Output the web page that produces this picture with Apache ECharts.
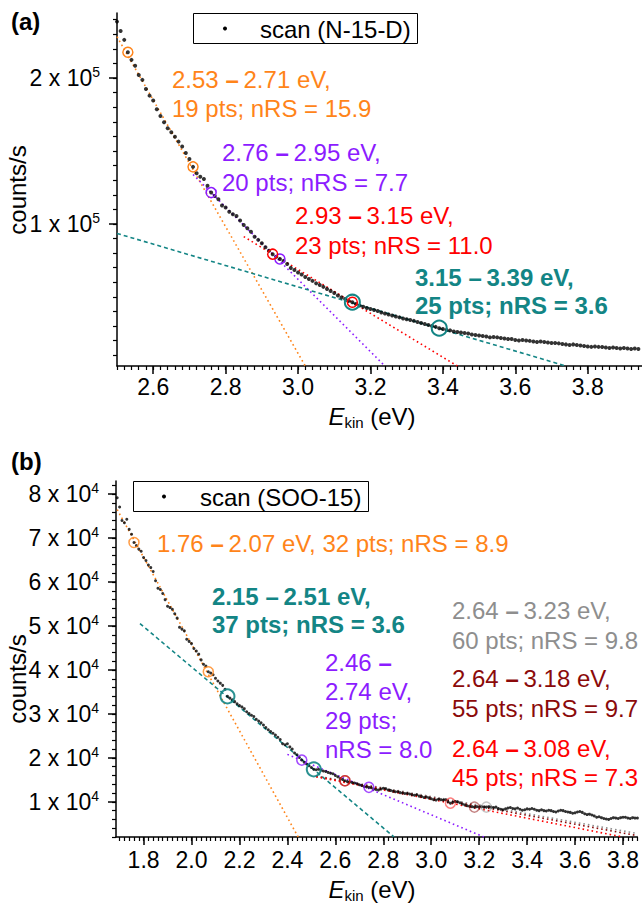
<!DOCTYPE html>
<html><head><meta charset="utf-8">
<script src="https://cdn.jsdelivr.net/npm/echarts@6/dist/echarts.min.js"></script>
<style>html,body{margin:0;padding:0;background:#fff}#c{width:642px;height:907px}</style>
</head><body><div id="c"></div>
<script>
// ---------- DATA : panel (a) scan (N-15-D) ----------
const energyA = [
2.50,2.51,2.52,2.53,2.54,2.55,2.56,2.57,2.58,2.59,
2.60,2.61,2.62,2.63,2.64,2.65,2.66,2.67,2.68,2.69,
2.70,2.71,2.72,2.73,2.74,2.75,2.76,2.77,2.78,2.79,
2.80,2.81,2.82,2.83,2.84,2.85,2.86,2.87,2.88,2.89,
2.90,2.91,2.92,2.93,2.94,2.95,2.96,2.97,2.98,2.99,
3.00,3.01,3.02,3.03,3.04,3.05,3.06,3.07,3.08,3.09,
3.10,3.11,3.12,3.13,3.14,3.15,3.16,3.17,3.18,3.19,
3.20,3.21,3.22,3.23,3.24,3.25,3.26,3.27,3.28,3.29,
3.30,3.31,3.32,3.33,3.34,3.35,3.36,3.37,3.38,3.39,
3.40,3.41,3.42,3.43,3.44,3.45,3.46,3.47,3.48,3.49,
3.50,3.51,3.52,3.53,3.54,3.55,3.56,3.57,3.58,3.59,
3.60,3.61,3.62,3.63,3.64,3.65,3.66,3.67,3.68,3.69,
3.70,3.71,3.72,3.73,3.74,3.75,3.76,3.77,3.78,3.79,
3.80,3.81,3.82,3.83,3.84,3.85,3.86,3.87,3.88,3.89,
3.90,3.91,3.92,3.93,3.94];
const countsA = [
238600,232200,226100,217600,212400,208400,202100,198700,192500,187900,
184500,178600,174000,169700,165600,162800,159800,156400,153000,148600,
144500,139100,134700,132400,130800,126200,121500,119200,116900,112700,
111300,108400,106700,105500,102300,99300,97100,94700,91300,89100,
86800,84000,81700,79300,77600,76000,74700,72600,69900,68500,
66800,65400,63700,62300,61000,59300,58200,56900,55500,54100,
52700,51000,49700,48600,47300,46400,45200,44200,43300,42500,
41800,41100,40400,39400,38700,38000,37300,36600,36000,35300,
34700,34200,33600,32900,32200,31500,30800,30100,29500,28600,
28100,27400,27100,26400,26000,25700,25300,25000,24300,24000,
23600,23300,22900,22300,22600,22300,21900,21600,21200,21200,
20500,20200,20500,20200,19900,19500,19200,19500,19200,18800,
18500,18500,18200,17800,17500,17100,17500,17100,16800,16400,
16100,15800,16100,15800,15700,15400,15100,15400,15100,14700,
15100,14700,14400,14700,14400];

// fit lines (a): endpoints [eV, counts/s]
const fitA_orange = [[2.50, 228300], [3.02, 2700]];
const fitA_purple = [[2.71, 133900], [3.24, 2700]];
const fitA_red    = [[2.85, 91350], [3.44, 2700]];
const fitA_teal   = [[2.50, 93500], [3.74, 2700]];
// fit range end points (a)
const rangeA_orange = [2.53, 2.71];
const rangeA_purple = [2.76, 2.95];
const rangeA_red    = [2.93, 3.15];
const rangeA_teal   = [3.15, 3.39];

// ---------- DATA : panel (b) scan (SOO-15) ----------
const energyB = [
1.69,
1.70,1.71,1.72,1.73,1.74,1.75,1.76,1.77,1.78,1.79,
1.80,1.81,1.82,1.83,1.84,1.85,1.86,1.87,1.88,1.89,
1.90,1.91,1.92,1.93,1.94,1.95,1.96,1.97,1.98,1.99,
2.00,2.01,2.02,2.03,2.04,2.05,2.06,2.07,2.08,2.09,
2.10,2.11,2.12,2.13,2.14,2.15,2.16,2.17,2.18,2.19,
2.20,2.21,2.22,2.23,2.24,2.25,2.26,2.27,2.28,2.29,
2.30,2.31,2.32,2.33,2.34,2.35,2.36,2.37,2.38,2.39,
2.40,2.41,2.42,2.43,2.44,2.45,2.46,2.47,2.48,2.49,
2.50,2.51,2.52,2.53,2.54,2.55,2.56,2.57,2.58,2.59,
2.60,2.61,2.62,2.63,2.64,2.65,2.66,2.67,2.68,2.69,
2.70,2.71,2.72,2.73,2.74,2.75,2.76,2.77,2.78,2.79,
2.80,2.81,2.82,2.83,2.84,2.85,2.86,2.87,2.88,2.89,
2.90,2.91,2.92,2.93,2.94,2.95,2.96,2.97,2.98,2.99,
3.00,3.01,3.02,3.03,3.04,3.05,3.06,3.07,3.08,3.09,
3.10,3.11,3.12,3.13,3.14,3.15,3.16,3.17,3.18,3.19,
3.20,3.21,3.22,3.23,3.24,3.25,3.26,3.27,3.28,3.29,
3.30,3.31,3.32,3.33,3.34,3.35,3.36,3.37,3.38,3.39,
3.40,3.41,3.42,3.43,3.44,3.45,3.46,3.47,3.48,3.49,
3.50,3.51,3.52,3.53,3.54,3.55,3.56,3.57,3.58,3.59,
3.60,3.61,3.62,3.63,3.64,3.65,3.66,3.67,3.68,3.69,
3.70,3.71,3.72,3.73,3.74,3.75,3.76,3.77,3.78,3.79,
3.80,3.81,3.82,3.83,3.84,3.85,3.86];
const countsB = [
79200,
77100,74000,73500,74300,72000,70900,69000,68300,67500,67000,
65600,64900,63900,63300,62400,60300,58600,58300,57400,56000,
54500,54200,53800,52800,51800,49700,49300,48900,47000,46500,
46000,44900,44300,43600,42300,41300,40900,39600,39300,38900,
38100,37500,37000,36500,35600,34000,33600,33200,32800,32300,
31900,31600,31200,30500,30100,29700,29400,28800,28400,28000,
27500,26900,26400,26000,25600,25200,24700,24200,23200,23000,
23200,22500,22000,21100,20700,20100,19500,19000,18600,18200,
17800,17400,17300,17400,17200,17000,16900,16700,16500,16400,
16000,15700,15300,15100,14800,14600,14500,14400,14300,14100,
13900,13700,13500,13400,13300,13200,12900,12800,12700,12900,
13100,13000,12700,12600,12400,12300,12300,12100,12000,11900,
11900,11800,11600,11500,11600,11300,11200,11000,11100,10900,
10700,10500,10400,10600,10500,10400,10500,10000,9700,9900,
10100,10000,9800,9500,9300,9100,9000,8900,8800,8900,
8800,8900,8800,8800,8900,8800,8700,8800,8500,8300,
8200,8400,8600,8700,8500,8400,8600,8300,8100,8200,
8400,8300,8500,8300,8100,8000,8200,8000,7900,8100,
8000,7800,7700,7900,8100,8000,7800,7700,7600,7400,
7500,7700,7800,7600,7300,7100,7200,7000,6800,6500,
6600,6400,6200,6100,6000,6200,6400,6300,6200,6400,
6500,6500,6300,6200,6400,6300,6300];

const fitB_orange = [[1.69, 76500], [2.445, 2000]];
const fitB_teal   = [[1.785, 50540], [2.845, 2000]];
const fitB_purple = [[2.40, 20800], [3.22, 2000]];
const fitB_gray   = [[2.52, 15900], [3.86, 2800]];
const fitB_brown  = [[2.52, 15800], [3.86, 2300]];
const fitB_red    = [[2.52, 15700], [3.80, 2000]];
const rangeB_orange = [1.76, 2.07];
const rangeB_teal   = [2.15, 2.51];
const rangeB_purple = [2.46, 2.74];
const rangeB_gray   = [2.64, 3.23];
const rangeB_brown  = [2.64, 3.18];
const rangeB_red    = [2.64, 3.08];

// ---------- TICKS ----------
const xTicksA = [2.6, 2.8, 3.0, 3.2, 3.4, 3.6, 3.8];
const xTicksB = [1.8, 2.0, 2.2, 2.4, 2.6, 2.8, 3.0, 3.2, 3.4, 3.6, 3.8];
const yTicksA = [100000, 200000];
const yTicksB = [10000, 20000, 30000, 40000, 50000, 60000, 70000, 80000];
const yExpA = 5, yExpB = 4;

// ---------- STYLE ----------
const FONT = '"Liberation Sans", Arial, Helvetica, sans-serif';
const COL = {orange:'#FF8419', purple:'#8C1CFF', red:'#FF0000', teal:'#138585', gray:'#8E8E8E', brown:'#8B0A0A'};

function pairs(xs, ys) { return xs.map((x, i) => [x, ys[i]]); }
function pick(xs, ys, es) { return es.map(e => { const i = xs.findIndex(v => Math.abs(v - e) < 1e-6); return [e, ys[i]]; }); }
function steps(a, b, n, div) { const r = []; for (let k = a; k <= b; k += n) r.push(k / div); return r; }

const xMinorA = steps(125, 197, 1, 50);
const xMinorB = steps(85, 193, 1, 50);
const yMinorA = steps(1, 24, 1, 1).map(v => v * 10000);
const yMinorB = steps(1, 41, 1, 1).map(v => v * 2000);

function xAxes(gi, min, max, major, minor, margin) {
  return [
    {type:'value', gridIndex:gi, min, max, position:'bottom',
     axisLine:{show:true, onZero:false, lineStyle:{color:'#000', width:1.5}},
     axisTick:{show:true, customValues:major, length:8, lineStyle:{color:'#000', width:1.5}},
     axisLabel:{show:true, customValues:major, formatter:v => v.toFixed(1), fontSize:23, fontFamily:FONT, color:'#000', margin},
     splitLine:{show:false}},
    {type:'value', gridIndex:gi, min, max, position:'bottom',
     axisLine:{show:false, onZero:false},
     axisTick:{show:true, customValues:minor, length:4, lineStyle:{color:'#000', width:1.2}},
     axisLabel:{show:false}, splitLine:{show:false}}
  ];
}
function yAxes(gi, min, max, major, minor, exp) {
  const div = Math.pow(10, exp);
  return [
    {type:'value', gridIndex:gi, min, max, position:'left',
     axisLine:{show:true, onZero:false, lineStyle:{color:'#000', width:1.5}},
     axisTick:{show:true, customValues:major, length:8, lineStyle:{color:'#000', width:1.5}},
     axisLabel:{show:true, customValues:major, margin:17,
       formatter:v => '{m|' + Math.round(v / div) + ' x 10}{s|' + exp + '}',
       rich:{m:{fontSize:23, fontFamily:FONT, color:'#000', lineHeight:26},
             s:{fontSize:14, fontFamily:FONT, color:'#000', verticalAlign:'top', lineHeight:14}}},
     splitLine:{show:false}},
    {type:'value', gridIndex:gi, min, max, position:'left',
     axisLine:{show:false, onZero:false},
     axisTick:{show:true, customValues:minor, length:4, lineStyle:{color:'#000', width:1.2}},
     axisLabel:{show:false}, splitLine:{show:false}}
  ];
}

const series = [];
function fitLine(xi, data, color, dashed) {
  series.push({type:'line', xAxisIndex:xi, yAxisIndex:xi, data, showSymbol:false, symbol:'none', silent:true, z:2,
    lineStyle:{color, width:1.6, type: dashed ? [4, 3] : [1.6, 3]}, clip:true});
}
function scan(xi, xs, ys, size) {
  series.push({type:'scatter', xAxisIndex:xi, yAxisIndex:xi, data:pairs(xs, ys), symbolSize:size, silent:true, z:3,
    itemStyle:{color:'#000'}});
}
function rings(xi, xs, ys, es, color, size, bw, op) {
  series.push({type:'scatter', xAxisIndex:xi, yAxisIndex:xi, data:pick(xs, ys, es), symbol:'circle', symbolSize:size, silent:true, z:4,
    itemStyle:{color:'rgba(0,0,0,0)', borderColor:color, borderWidth:bw, opacity:op}});
}

// panel (a)
fitLine(0, fitA_orange, COL.orange, false);
fitLine(0, fitA_purple, COL.purple, false);
fitLine(0, fitA_red, COL.red, false);
fitLine(0, fitA_teal, COL.teal, true);
scan(0, energyA, countsA, 4);
rings(0, energyA, countsA, rangeA_orange, COL.orange, 10, 1.5, 1);
rings(0, energyA, countsA, rangeA_purple, COL.purple, 10, 1.5, 1);
rings(0, energyA, countsA, rangeA_red, COL.red, 10, 1.5, 1);
rings(0, energyA, countsA, rangeA_teal, COL.teal, 15, 2, 1);
// panel (b)
fitLine(2, fitB_orange, COL.orange, false);
fitLine(2, fitB_teal, COL.teal, true);
fitLine(2, fitB_purple, COL.purple, false);
fitLine(2, fitB_gray, COL.gray, false);
fitLine(2, fitB_brown, COL.brown, false);
fitLine(2, fitB_red, COL.red, false);
scan(2, energyB, countsB, 3);
rings(2, energyB, countsB, rangeB_orange, COL.orange, 10, 1.5, 0.8);
rings(2, energyB, countsB, rangeB_teal, COL.teal, 14, 2, 0.9);
rings(2, energyB, countsB, rangeB_purple, COL.purple, 10, 1.5, 0.8);
rings(2, energyB, countsB, rangeB_gray, COL.gray, 10, 1.5, 0.5);
rings(2, energyB, countsB, rangeB_brown, COL.brown, 10, 1.5, 0.5);
rings(2, energyB, countsB, rangeB_red, COL.red, 10, 1.5, 0.5);

// ---------- annotation text ----------
function richLine(s) { return '{n|' + s.replace('–', '}{d|–}{n|\u2009') + '}'; }
function ann(x, y, lh, lines, color, bold) {
  return {type:'text', x, y, z:10, silent:true, style:{
    text: lines.map(richLine).join('\n'), align:'left', verticalAlign:'top',
    fill:color, fontSize:24, fontFamily:FONT, fontWeight: bold ? 'bold' : 'normal', lineHeight:lh,
    rich:{n:{fill:color, fontSize:24, fontFamily:FONT, fontWeight: bold ? 'bold' : 'normal', lineHeight:lh},
          d:{fill:color, fontSize:24, fontFamily:FONT, fontWeight:'bold', lineHeight:lh}}}};
}
function legendBox(x, y, w, h, dotX, textX, label) {
  return [
    {type:'rect', shape:{x:x + 0.5, y:y + 0.5, width:w, height:h}, z:9, style:{fill:'#fff', stroke:'#000', lineWidth:1}},
    {type:'circle', shape:{cx:dotX, cy:y + h / 2 + 0.5, r:2}, z:10, style:{fill:'#000'}},
    {type:'text', x:textX, y:y + h / 2 + 1, z:10, style:{text:label, fill:'#000', fontSize:24, fontFamily:FONT, verticalAlign:'middle', align:'left'}}
  ];
}
function xTitle(cx, cy) {
  return {type:'text', x:cx, y:cy, z:10, style:{text:'{e|E}{k|kin}{n| (eV)}', align:'center', verticalAlign:'middle',
    fontSize:24, fontFamily:FONT, fill:'#000',
    rich:{e:{fontSize:24, fontFamily:FONT, fontStyle:'italic', fill:'#000', lineHeight:28},
          k:{fontSize:15, fontFamily:FONT, fill:'#000', verticalAlign:'bottom', lineHeight:15},
          n:{fontSize:24, fontFamily:FONT, fill:'#000', lineHeight:28}}}};
}
function yTitle(cx, cy) {
  return {type:'text', x:cx, y:cy, rotation:Math.PI / 2, z:10, style:{text:'counts/s', align:'center', verticalAlign:'middle',
    fontSize:24, fontFamily:FONT, fill:'#000'}};
}

const graphic = [
  {type:'text', x:11, y:21, z:10, style:{text:'(a)', fontSize:24, fontWeight:'bold', fontFamily:FONT, fill:'#000', verticalAlign:'middle'}},
  {type:'text', x:11, y:461, z:10, style:{text:'(b)', fontSize:24, fontWeight:'bold', fontFamily:FONT, fill:'#000', verticalAlign:'middle'}},
  ...legendBox(193, 13, 224, 30, 225, 260, 'scan (N-15-D)'),
  ...legendBox(133, 481, 235, 30, 164, 200, 'scan (SOO-15)'),
  yTitle(17, 190), yTitle(17, 679),
  xTitle(372, 416), xTitle(372, 889),
  ann(172, 64.5, 29, ['2.53 –2.71 eV,', '19 pts; nRS = 15.9'], COL.orange, false),
  ann(222, 137, 30, ['2.76 –2.95 eV,', '20 pts; nRS = 7.7'], COL.purple, false),
  ann(295, 200, 30, ['2.93 –3.15 eV,', '23 pts; nRS = 11.0'], COL.red, false),
  ann(415, 263, 28, ['3.15 –3.39 eV,', '25 pts; nRS = 3.6'], COL.teal, true),
  ann(157, 528.5, 29, ['1.76 –2.07 eV, 32 pts; nRS = 8.9'], COL.orange, false),
  ann(212, 582, 28, ['2.15 –2.51 eV,', '37 pts; nRS = 3.6'], COL.teal, true),
  ann(452, 595, 30, ['2.64 –3.23 eV,', '60 pts; nRS = 9.8'], COL.gray, false),
  ann(325, 647.5, 29, ['2.46 –', '2.74 eV,', '29 pts;', 'nRS = 8.0'], COL.purple, false),
  ann(452, 663, 30, ['2.64 –3.18 eV,', '55 pts; nRS = 9.7'], COL.brown, false),
  ann(452, 733.5, 29, ['2.64 –3.08 eV,', '45 pts; nRS = 7.3'], COL.red, false)
];

const chart = echarts.init(document.getElementById('c'), null, {renderer:'svg'});
chart.setOption({
  animation:false,
  backgroundColor:'#fff',
  grid:[
    {left:117, top:13, right:0, height:353, containLabel:false},
    {left:116, top:481, right:0, height:356, containLabel:false}
  ],
  xAxis:[...xAxes(0, 2.5, 3.95, xTicksA, xMinorA, 9), ...xAxes(1, 1.685, 3.86, xTicksB, xMinorB, 11)],
  yAxis:[...yAxes(0, 2700, 244500, yTicksA, yMinorA, yExpA), ...yAxes(1, 2000, 83000, yTicksB, yMinorB, yExpB)],
  series,
  graphic
});
</script></body></html>
